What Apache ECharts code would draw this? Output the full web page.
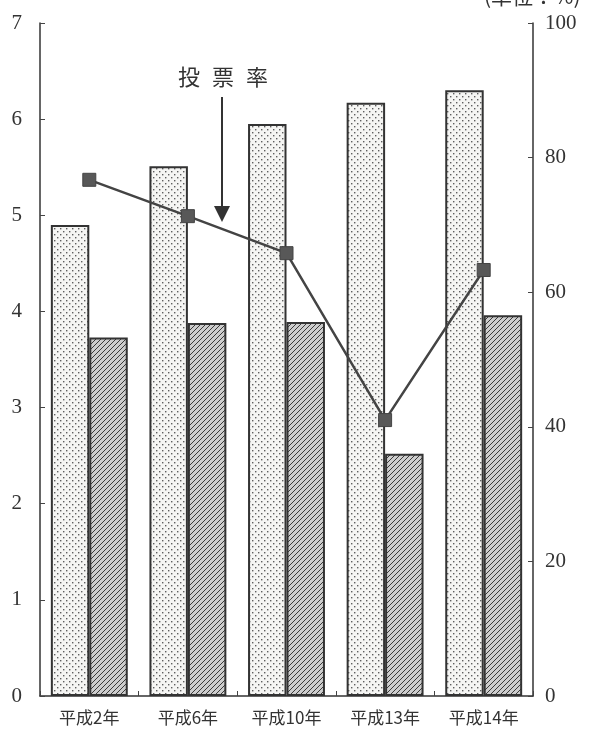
<!DOCTYPE html>
<html>
<head>
<meta charset="utf-8">
<script src="https://cdn.jsdelivr.net/npm/echarts@6/dist/echarts.min.js"></script>
<style>
html,body{margin:0;padding:0;background:#fff;}
#c{width:601px;height:743px;}
</style>
</head>
<body>
<div id="c"></div>
<script>
const categories = ['平成2年', '平成6年', '平成10年', '平成13年', '平成14年'];
const dottedValues = [4.9, 5.51, 5.95, 6.17, 6.3];
const hatchedValues = [3.73, 3.88, 3.89, 2.52, 3.96];
const turnoutValues = [76.7, 71.3, 65.8, 41.0, 63.3];
const leftTicks = [0, 1, 2, 3, 4, 5, 6, 7];
const rightTicks = [0, 20, 40, 60, 80, 100];

function dotPattern() {
  const c = document.createElement('canvas');
  c.width = 6; c.height = 6;
  const g = c.getContext('2d');
  g.fillStyle = '#f5f5f3'; g.fillRect(0, 0, 6, 6);
  g.fillStyle = '#5e5e5e';
  g.fillRect(0, 0, 1.4, 1.4);
  g.fillRect(3, 3, 1.4, 1.4);
  return c;
}
function hatchPattern() {
  const c = document.createElement('canvas');
  c.width = 5; c.height = 5;
  const g = c.getContext('2d');
  g.fillStyle = '#cdcdcd'; g.fillRect(0, 0, 5, 5);
  g.strokeStyle = '#3a3a3a'; g.lineWidth = 1;
  g.beginPath();
  g.moveTo(0, 5); g.lineTo(5, 0);
  g.moveTo(-1, 1); g.lineTo(1, -1);
  g.moveTo(4, 6); g.lineTo(6, 4);
  g.stroke();
  return c;
}

const chart = echarts.init(document.getElementById('c'), null, {renderer: 'canvas'});
const serif = '"Liberation Serif", "DejaVu Serif", serif';
const cjk = '"Noto Sans CJK JP", "Noto Sans", sans-serif';

chart.setOption({
  animation: false,
  backgroundColor: '#fff',
  grid: {left: 40, right: 68, top: 23, bottom: 47, containLabel: false},
  xAxis: {
    type: 'category',
    data: categories,
    axisLine: {show: true, lineStyle: {color: '#333', width: 1.5}},
    axisTick: {show: true, inside: true, length: 5, alignWithLabel: false, lineStyle: {color: '#444'}},
    axisLabel: {color: '#333', fontSize: 17, fontFamily: cjk, margin: 13},
    splitLine: {show: false}
  },
  yAxis: [
    {
      type: 'value', min: leftTicks[0], max: leftTicks[leftTicks.length - 1], interval: 1,
      position: 'left',
      axisLine: {show: true, lineStyle: {color: '#333', width: 1.5}},
      axisTick: {show: true, inside: true, length: 5, lineStyle: {color: '#444'}},
      axisLabel: {color: '#333', fontSize: 21, fontFamily: serif, margin: 18},
      splitLine: {show: false}
    },
    {
      type: 'value', min: rightTicks[0], max: rightTicks[rightTicks.length - 1], interval: 20,
      position: 'right',
      axisLine: {show: true, lineStyle: {color: '#333', width: 1.5}},
      axisTick: {show: true, inside: true, length: 5, lineStyle: {color: '#444'}},
      axisLabel: {color: '#333', fontSize: 21, fontFamily: serif, margin: 12},
      splitLine: {show: false}
    }
  ],
  series: [
    {
      type: 'bar', yAxisIndex: 0, data: dottedValues,
      barGap: '0%', barCategoryGap: '22%',
      itemStyle: {color: {image: dotPattern(), repeat: 'repeat'}, borderColor: '#333', borderWidth: 2}
    },
    {
      type: 'bar', yAxisIndex: 0, data: hatchedValues,
      itemStyle: {color: {image: hatchPattern(), repeat: 'repeat'}, borderColor: '#333', borderWidth: 2}
    },
    {
      type: 'line', yAxisIndex: 1, data: turnoutValues, z: 5,
      symbol: 'rect', symbolSize: 13,
      lineStyle: {color: '#444', width: 2.5},
      itemStyle: {color: '#585858', borderColor: '#444', borderWidth: 1}
    }
  ],
  graphic: [
    {type: 'text', left: 178, top: 66, style: {text: '投', fontSize: 22, fontFamily: cjk, fill: '#333'}},
    {type: 'text', left: 212, top: 66, style: {text: '票', fontSize: 22, fontFamily: cjk, fill: '#333'}},
    {type: 'text', left: 246, top: 66, style: {text: '率', fontSize: 22, fontFamily: cjk, fill: '#333'}},
    {type: 'line', shape: {x1: 222, y1: 97, x2: 222, y2: 208}, style: {stroke: '#333', lineWidth: 2}},
    {type: 'polygon', shape: {points: [[214, 206], [230, 206], [222, 222]]}, style: {fill: '#333'}},
    {type: 'text', left: 484, top: -14, style: {text: '(単位：%)', fontSize: 21, fontFamily: cjk, fill: '#333'}}
  ]
});
</script>
</body>
</html>
